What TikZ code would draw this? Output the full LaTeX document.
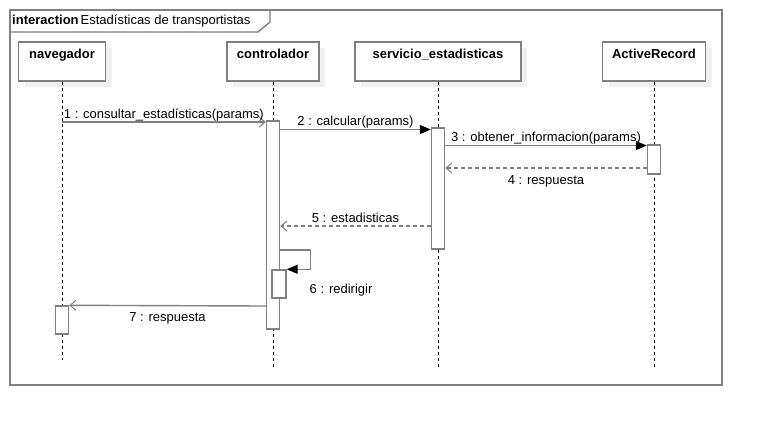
\documentclass[tikz,border=0pt]{standalone}
\usepackage{fontspec}
\setmainfont{Liberation Sans}
\usetikzlibrary{arrows.meta,shadows}

\begin{document}
\begin{tikzpicture}[x=1pt,y=-1pt,
  every node/.style={font=\fontsize{13}{15}\selectfont},
  frame/.style={draw=gray,line width=1.4pt},
  head/.style={draw=gray,line width=1.4pt,fill=white,font=\fontsize{13}{15}\selectfont\bfseries,
    minimum height=39pt,inner xsep=0pt,inner ysep=3pt,text height=13pt,text depth=20pt,
    drop shadow={shadow xshift=6pt,shadow yshift=-6pt,fill=black!6,opacity=1}},
  act/.style={draw=gray,line width=1.4pt,fill=white,minimum width=13pt,inner sep=0pt},
  life/.style={dash pattern=on 3pt off 3pt,line width=0.8pt},
  call/.style={draw=gray,line width=1.4pt,-{Triangle[length=11pt,width=9pt,color=black,fill=black]}},
  send/.style={draw=gray,line width=1.4pt,-{Straight Barb[length=6pt,width=10pt,line width=1pt]}},
  reply/.style={send,dash pattern=on 4pt off 3pt},
  above lbl/.style={midway,anchor=base,yshift=4pt},
  below lbl/.style={midway,anchor=base,yshift=-16pt}]
\useasboundingbox (0,0) rectangle (762,426);
\draw[frame] (10,10) rectangle (722,385);
\draw[frame] (10,32) -- (258,32) -- (270,22) -- (270,10);
\node[anchor=base west,inner sep=0pt] (title) at (12,24) {\textbf{interaction}\hspace{2pt}Estadísticas de transportistas};
\node[head,minimum width=87pt] (nav) at (62,61.5) {navegador};
\node[head,minimum width=92pt] (ctrl) at (273,61.5) {controlador};
\node[head,minimum width=166pt] (serv) at (438,61.5) {servicio\_estadisticas};
\node[head,minimum width=103pt] (ar) at (654,61.5) {ActiveRecord};
\coordinate (nav end) at (62,360);
\coordinate (ctrl end) at (273,367);
\coordinate (serv end) at (438,367);
\coordinate (ar end) at (654,367);
\draw[life] (nav.south) -- (nav end);
\draw[life] (ctrl.south) -- (ctrl end);
\draw[life] (serv.south) -- (serv end);
\draw[life] (ar.south) -- (ar end);
\node[act,minimum height=208pt] (ctrlA) at (273,225) {};
\node[act,minimum height=121pt] (servA) at (438,188.5) {};
\node[act,minimum height=29pt] (arA) at (654,159.5) {};
\node[act,minimum height=28pt,minimum width=14pt] (ctrlB) at (279,284) {};
\node[act,minimum height=28pt] (navA) at (62,320) {};
\coordinate (y1) at (0,122);
\coordinate (y2) at (0,129.5);
\coordinate (y3) at (0,145.5);
\coordinate (y4) at (0,168);
\coordinate (y5) at (0,226);
\coordinate (y6) at (0,250);
\coordinate (y7) at (0,306);
\draw[send] (nav |- y1) -- (ctrlA.west |- y1) node[above lbl] {1 : consultar\_estadísticas(params)};
\draw[call] (ctrlA.east |- y2) -- (servA.west |- y2) node[above lbl] {2 : calcular(params)};
\draw[call] (servA.east |- y3) -- (arA.west |- y3) node[above lbl] {3 : obtener\_informacion(params)};
\draw[reply] (arA.west |- y4) -- (servA.east |- y4) node[below lbl] {4 : respuesta};
\draw[reply] (servA.west |- y5) -- (ctrlA.east |- y5) node[above lbl] {5 : estadisticas};
\draw[call] (ctrlA.east |- y6) -- ++(30,0) |- (ctrlB.north east) node[anchor=base west,xshift=19pt,yshift=-24pt] {6 : redirigir};
\draw[send] (ctrlA.west |- y7) -- (navA.north east) node[below lbl] {7 : respuesta};
\end{tikzpicture}
\end{document}
